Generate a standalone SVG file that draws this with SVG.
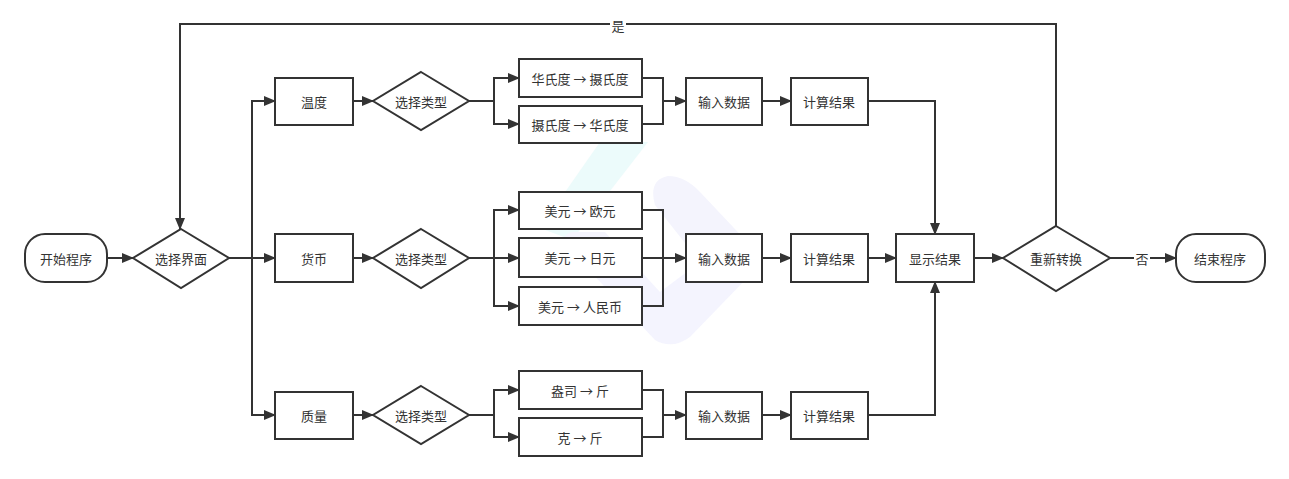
<svg xmlns="http://www.w3.org/2000/svg" width="1289" height="479" viewBox="0 0 1289 479">
<defs>
<marker id="arr" markerUnits="userSpaceOnUse" markerWidth="12" markerHeight="10" refX="11" refY="5" orient="auto">
<path d="M0,0 L12,5 L0,10 Z" fill="#333"/>
</marker>
<style>
.n{fill:#fff;stroke:#333;stroke-width:2}
.t{font-family:"Noto Sans CJK SC","Noto Sans",sans-serif;font-size:13px;fill:#333;text-anchor:middle;dominant-baseline:central}
.c{fill:none;stroke:#333;stroke-width:2}
.a{marker-end:url(#arr)}
</style>
</defs>
<rect width="1289" height="479" fill="#fff"/>
<g id="watermark" opacity="0.7">
<path d="M600,142 L648,142 L572,240 L540,228 Z" fill="#e4fafa"/>
<path d="M668,176 Q685,176 700,192 L750,245 Q762,260 750,275 L690,337 Q672,350 655,340 L568,248 Q558,236 572,232 L605,232 L660,292 L700,262 L655,205 Q648,180 668,176 Z" fill="#f0f0fd"/>
</g>
<g id="connectors">
<path class="c a" d="M107,258 H133"/>
<path class="c a" d="M229,258 H252 V101 H275"/>
<path class="c a" d="M252,258 H275"/>
<path class="c a" d="M252,258 V415 H275"/>
<path class="c a" d="M1056,226 V24 H180 V229"/>
<path class="c a" d="M353,101 H373"/>
<path class="c a" d="M469,101 H494 V78 H519"/>
<path class="c a" d="M494,101 V124 H519"/>
<path class="c" d="M642,78 H663 V124 H642"/>
<path class="c a" d="M663,101 H686"/>
<path class="c a" d="M762,101 H791"/>
<path class="c a" d="M868,101 H935 V234"/>
<path class="c a" d="M353,258 H373"/>
<path class="c a" d="M469,258 H494 V210 H519"/>
<path class="c a" d="M494,258 H519"/>
<path class="c a" d="M494,258 V306 H519"/>
<path class="c" d="M642,210 H663 V306 H642"/>
<path class="c a" d="M642,258 H686"/>
<path class="c a" d="M762,258 H791"/>
<path class="c a" d="M868,258 H896"/>
<path class="c a" d="M353,415 H373"/>
<path class="c a" d="M469,415 H494 V390 H519"/>
<path class="c a" d="M494,415 V437 H519"/>
<path class="c" d="M642,390 H663 V437 H642"/>
<path class="c a" d="M663,415 H686"/>
<path class="c a" d="M762,415 H791"/>
<path class="c a" d="M868,415 H935 V282"/>
<path class="c a" d="M974,258 H1003"/>
<path class="c a" d="M1110,258 H1176"/>
<rect x="610" y="17" width="16" height="15" fill="#fff"/>
<text class="t" x="618" y="25">是</text>
<rect x="1134" y="250" width="16" height="16" fill="#fff"/>
<text class="t" x="1142" y="258">否</text>
</g>
<g id="start"><rect class="n" x="25" y="234" width="82" height="48" rx="20"/><text class="t" x="66" y="258">开始程序</text></g>
<g id="select-ui"><polygon class="n" points="181,229 229,258 181,288 133,258"/><text class="t" x="181" y="258">选择界面</text></g>
<g id="temp"><rect class="n" x="275" y="78" width="78" height="47"/><text class="t" x="314" y="101">温度</text></g>
<g id="temp-type"><polygon class="n" points="421,72 469,101 421,130 373,101"/><text class="t" x="421" y="101">选择类型</text></g>
<g id="f2c"><rect class="n" x="519" y="59" width="123" height="38"/><text class="t" x="580" y="78">华氏度 → 摄氏度</text></g>
<g id="c2f"><rect class="n" x="519" y="106" width="123" height="37"/><text class="t" x="580" y="124.5">摄氏度 → 华氏度</text></g>
<g id="temp-input"><rect class="n" x="686" y="78" width="76" height="47"/><text class="t" x="724" y="101">输入数据</text></g>
<g id="temp-calc"><rect class="n" x="791" y="78" width="77" height="47"/><text class="t" x="829" y="101">计算结果</text></g>
<g id="money"><rect class="n" x="275" y="234" width="78" height="48"/><text class="t" x="314" y="258">货币</text></g>
<g id="money-type"><polygon class="n" points="421,229 469,258 421,288 373,258"/><text class="t" x="421" y="258">选择类型</text></g>
<g id="usd-eur"><rect class="n" x="519" y="192" width="123" height="37"/><text class="t" x="580" y="210.5">美元 → 欧元</text></g>
<g id="usd-jpy"><rect class="n" x="519" y="238" width="123" height="39"/><text class="t" x="580" y="257.5">美元 → 日元</text></g>
<g id="usd-cny"><rect class="n" x="519" y="287" width="123" height="38"/><text class="t" x="580" y="306">美元 → 人民币</text></g>
<g id="money-input"><rect class="n" x="686" y="234" width="76" height="48"/><text class="t" x="724" y="258">输入数据</text></g>
<g id="money-calc"><rect class="n" x="791" y="234" width="77" height="48"/><text class="t" x="829" y="258">计算结果</text></g>
<g id="mass"><rect class="n" x="275" y="392" width="78" height="47"/><text class="t" x="314" y="415">质量</text></g>
<g id="mass-type"><polygon class="n" points="421,386 469,415 421,444 373,415"/><text class="t" x="421" y="415">选择类型</text></g>
<g id="oz-jin"><rect class="n" x="519" y="371" width="123" height="38"/><text class="t" x="580" y="390">盎司 → 斤</text></g>
<g id="g-jin"><rect class="n" x="519" y="418" width="123" height="38"/><text class="t" x="580" y="437">克 → 斤</text></g>
<g id="mass-input"><rect class="n" x="686" y="392" width="76" height="47"/><text class="t" x="724" y="415">输入数据</text></g>
<g id="mass-calc"><rect class="n" x="791" y="392" width="77" height="47"/><text class="t" x="829" y="415">计算结果</text></g>
<g id="display"><rect class="n" x="896" y="234" width="78" height="48"/><text class="t" x="935" y="258">显示结果</text></g>
<g id="again"><polygon class="n" points="1056,226 1110,258 1056,291 1003,258"/><text class="t" x="1056" y="258">重新转换</text></g>
<g id="end"><rect class="n" x="1176" y="234" width="89" height="48" rx="20"/><text class="t" x="1220" y="258">结束程序</text></g>
</svg>
